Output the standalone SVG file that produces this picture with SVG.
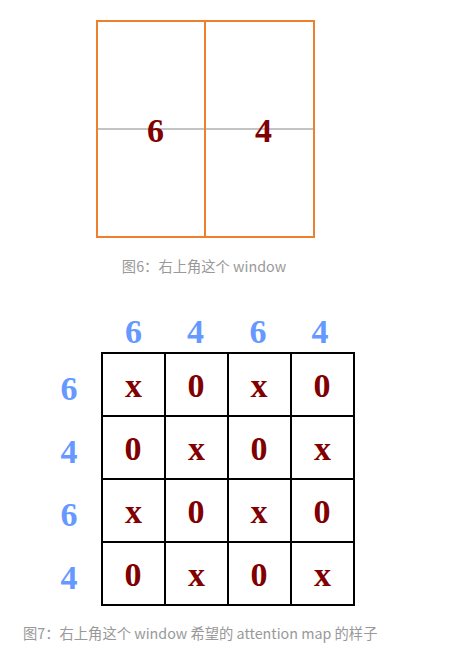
<svg xmlns="http://www.w3.org/2000/svg" width="453" height="646" viewBox="0 0 453 646">
<style>
.num{font-family:"Liberation Serif","Times New Roman",serif;font-weight:bold;font-size:34px;text-anchor:middle}
.red{fill:#800000}
.blue{fill:#6699ff}
.cap{font-family:"Noto Sans CJK SC","Noto Sans",sans-serif;font-size:14.3px;fill:#999999}
.cell{fill:none;stroke:#000;stroke-width:2}
</style>
<rect width="453" height="646" fill="#ffffff"/>
<g id="window">
<line x1="97" y1="129" x2="314" y2="129" stroke="#888" stroke-width="1"/>
<rect x="97" y="21" width="217" height="216" fill="none" stroke="#4a90e2" stroke-width="1" stroke-dasharray="1 9"/>
<rect x="97" y="21" width="217" height="216" fill="none" stroke="#ee7f2d" stroke-width="2"/>
<line x1="205" y1="21" x2="205" y2="237" stroke="#ee7f2d" stroke-width="2"/>
<text class="num red" x="155.5" y="142">6</text>
<text class="num red" x="263.5" y="142">4</text>
</g>
<text id="cap6" class="cap" x="204" y="272" text-anchor="middle">图6：右上角这个 window</text>
<g id="colLabels">
<text class="num blue" x="133.5" y="343">6</text>
<text class="num blue" x="195.5" y="343">4</text>
<text class="num blue" x="258" y="343">6</text>
<text class="num blue" x="320" y="343">4</text>
</g>
<g id="rowLabels">
<text class="num blue" x="69" y="400">6</text>
<text class="num blue" x="69" y="463">4</text>
<text class="num blue" x="69" y="526">6</text>
<text class="num blue" x="69" y="589">4</text>
</g>
<g id="grid">
<rect class="cell" x="102" y="353" width="252" height="252"/>
<line class="cell" x1="165" y1="353" x2="165" y2="605"/>
<line class="cell" x1="228" y1="353" x2="228" y2="605"/>
<line class="cell" x1="291" y1="353" x2="291" y2="605"/>
<line class="cell" x1="102" y1="416" x2="354" y2="416"/>
<line class="cell" x1="102" y1="479" x2="354" y2="479"/>
<line class="cell" x1="102" y1="542" x2="354" y2="542"/>
</g>
<g id="cells">
<text class="num red" x="133.5" y="397">x</text>
<text class="num red" x="196" y="397">0</text>
<text class="num red" x="259" y="397">x</text>
<text class="num red" x="322" y="397">0</text>
<text class="num red" x="133" y="460">0</text>
<text class="num red" x="196.5" y="460">x</text>
<text class="num red" x="259" y="460">0</text>
<text class="num red" x="322.5" y="460">x</text>
<text class="num red" x="133.5" y="523">x</text>
<text class="num red" x="196" y="523">0</text>
<text class="num red" x="259" y="523">x</text>
<text class="num red" x="322" y="523">0</text>
<text class="num red" x="133" y="586">0</text>
<text class="num red" x="196.5" y="586">x</text>
<text class="num red" x="259" y="586">0</text>
<text class="num red" x="322.5" y="586">x</text>
</g>
<text id="cap7" class="cap" x="23" y="639">图7：右上角这个 window 希望的 attention map 的样子</text>
</svg>
